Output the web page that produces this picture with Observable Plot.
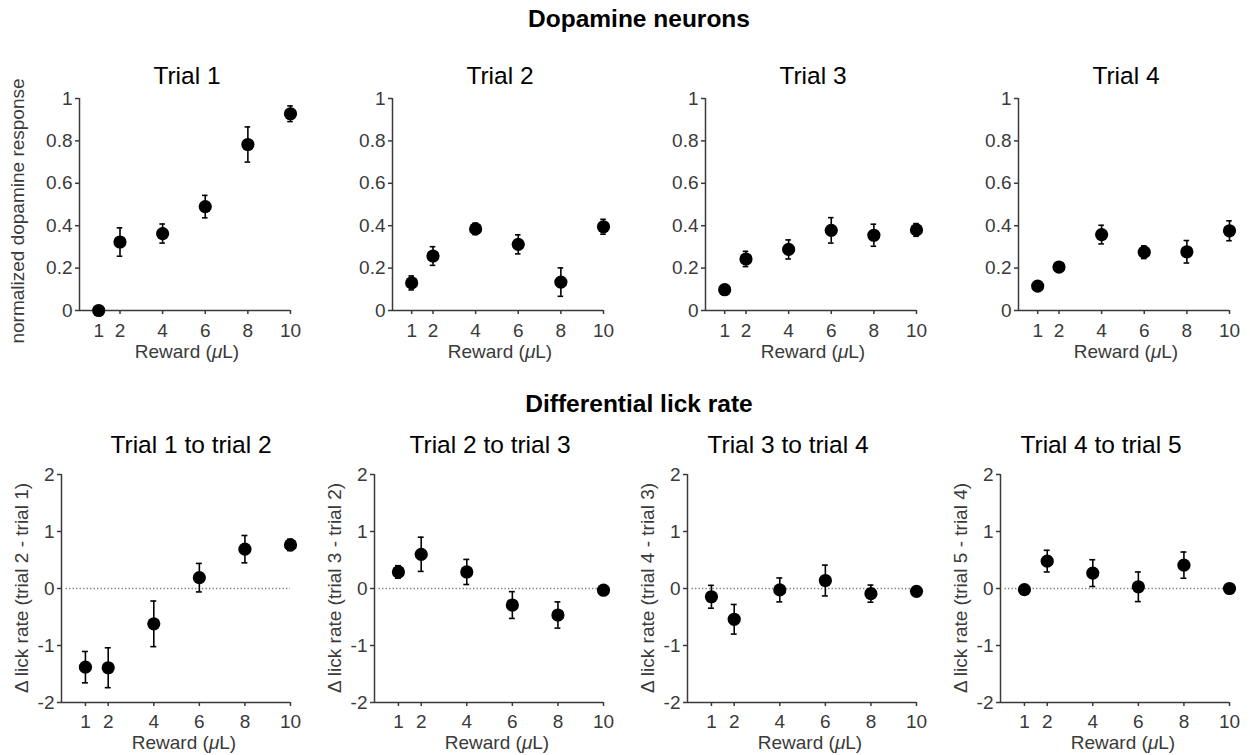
<!DOCTYPE html>
<html>
<head>
<meta charset="utf-8">
<script src="https://cdn.jsdelivr.net/npm/d3@7"></script>
<script src="https://cdn.jsdelivr.net/npm/@observablehq/plot@0.6"></script>
<style>
  html, body { margin: 0; padding: 0; background: #fff; }
  #fig { position: relative; width: 1250px; height: 755px; overflow: hidden; background: #fff;
         font-family: "Liberation Sans", Arial, Helvetica, sans-serif; }
  .panel { position: absolute; }
  #overlay { position: absolute; left: 0; top: 0; pointer-events: none; }
</style>
</head>
<body>
<div id="fig"></div>
<script>
// ---------------- DATA ----------------
const rewards = [1, 2, 4, 6, 8, 10];
const rewardTicks = [1, 2, 4, 6, 8, 10];

const dopTitles = ["Trial 1", "Trial 2", "Trial 3", "Trial 4"];
const dopYLabel = "normalized dopamine response";
const dopTicks = [0, 0.2, 0.4, 0.6, 0.8, 1];
const dopMean = [
  [0.00, 0.323, 0.363, 0.490, 0.783, 0.928],
  [0.130, 0.257, 0.385, 0.312, 0.134, 0.395],
  [0.098, 0.243, 0.288, 0.378, 0.355, 0.380],
  [0.115, 0.205, 0.358, 0.275, 0.277, 0.376]
];
const dopSem = [
  [0.008, 0.067, 0.045, 0.053, 0.083, 0.037],
  [0.033, 0.044, 0.027, 0.045, 0.067, 0.035],
  [0.010, 0.036, 0.045, 0.060, 0.052, 0.030],
  [0.012, 0.012, 0.044, 0.030, 0.053, 0.047]
];

const lickTitles = ["Trial 1 to trial 2", "Trial 2 to trial 3", "Trial 3 to trial 4", "Trial 4 to trial 5"];
const lickYLabels = [
  "\u0394 lick rate (trial 2 - trial 1)",
  "\u0394 lick rate (trial 3 - trial 2)",
  "\u0394 lick rate (trial 4 - trial 3)",
  "\u0394 lick rate (trial 5 - trial 4)"
];
const lickTicks = [-2, -1, 0, 1, 2];
const lickMean = [
  [-1.38, -1.39, -0.62, 0.19, 0.69, 0.765],
  [0.29, 0.60, 0.29, -0.29, -0.465, -0.03],
  [-0.145, -0.54, -0.025, 0.14, -0.09, -0.05],
  [-0.02, 0.48, 0.27, 0.03, 0.41, 0.00]
];
const lickSem = [
  [0.275, 0.35, 0.40, 0.25, 0.24, 0.10],
  [0.11, 0.30, 0.22, 0.235, 0.23, 0.03],
  [0.20, 0.26, 0.21, 0.27, 0.15, 0.06],
  [0.03, 0.19, 0.235, 0.26, 0.23, 0.02]
];

const sectionTitles = ["Dopamine neurons", "Differential lick rate"];

// ---------------- LAYOUT ----------------
const fig = document.getElementById("fig");
const STEP = 313;
const AXIS = "#3a3a3a";
const TICKFONT = 19;
const FONT = '"Liberation Sans", Arial, Helvetica, sans-serif';

function panel({means, sems, i, top, height, mt, mb, ml, mr, xdom, ydom, yticks, zeroLine, xpad}) {
  const data = rewards.map((r, k) => ({x: r, y: means[k], lo: means[k] - sems[k], hi: means[k] + sems[k]}));
  const capW = 0.13;
  const marks = [
    Plot.ruleX([xdom[0]], {y1: ydom[0], y2: ydom[1], stroke: AXIS, strokeWidth: 1.5}),
    Plot.ruleY([ydom[0]], {x1: xdom[0], x2: 10, stroke: AXIS, strokeWidth: 1.5}),
    Plot.axisY({ticks: yticks, tickSize: 4, tickPadding: 3, tickFormat: d => String(d), label: null,
                fontSize: TICKFONT, stroke: AXIS, fill: AXIS, strokeWidth: 1.5}),
    Plot.axisX({ticks: rewardTicks, tickSize: 4, tickPadding: xpad, tickFormat: d => String(d), label: null,
                fontSize: TICKFONT, stroke: AXIS, fill: AXIS, strokeWidth: 1.5})
  ];
  if (zeroLine) {
    marks.push(Plot.ruleY([0], {x1: xdom[0] + 0.2, x2: 10, stroke: "#7a7a7a", strokeWidth: 1.3, strokeDasharray: "1.3,2.2"}));
  }
  marks.push(
    Plot.ruleX(data, {x: "x", y1: "lo", y2: "hi", stroke: "#000", strokeWidth: 1.6}),
    Plot.ruleY(data, {y: "hi", x1: d => d.x - capW, x2: d => d.x + capW, stroke: "#000", strokeWidth: 1.6}),
    Plot.ruleY(data, {y: "lo", x1: d => d.x - capW, x2: d => d.x + capW, stroke: "#000", strokeWidth: 1.6}),
    Plot.dot(data, {x: "x", y: "y", r: 6.6, fill: "#000", stroke: "none"})
  );
  const p = Plot.plot({
    width: 311, height,
    marginTop: mt, marginBottom: mb, marginLeft: ml, marginRight: mr,
    x: {domain: xdom},
    y: {domain: ydom},
    style: {fontFamily: FONT, fontSize: TICKFONT + "px", background: "transparent", color: AXIS, overflow: "visible"},
    marks
  });
  d3.select(p).selectAll("text").attr("font-size", TICKFONT).style("font-size", TICKFONT + "px");
  const wrap = document.createElement("div");
  wrap.className = "panel";
  wrap.style.left = (i * STEP) + "px";
  wrap.style.top = top + "px";
  wrap.appendChild(p);
  fig.appendChild(wrap);
}

for (let i = 0; i < 4; i++) {
  panel({means: dopMean[i], sems: dopSem[i], i, top: 60, height: 300, mt: 38, mb: 50, ml: 79, mr: 21,
         xdom: [0.1, 10], ydom: [0, 1], yticks: dopTicks, zeroLine: false, xpad: 9});
  panel({means: lickMean[i], sems: lickSem[i], i, top: 430, height: 325, mt: 44, mb: 53, ml: 61, mr: 21,
         xdom: [-0.05, 10], ydom: [-2, 2], yticks: lickTicks, zeroLine: true, xpad: 8});
}

// ---------------- TEXT OVERLAY ----------------
const svg = d3.select(fig).append("svg").attr("id", "overlay")
  .attr("width", 1250).attr("height", 755)
  .style("font-family", FONT);

function txt(x, y, s, size, opts = {}) {
  const t = svg.append("text").attr("x", x).attr("y", y).attr("text-anchor", "middle")
    .attr("font-size", size).attr("fill", opts.fill || "#000")
    .attr("font-weight", opts.bold ? "bold" : null);
  if (opts.rotate) t.attr("transform", `rotate(-90 ${x} ${y})`).attr("dy", "0.35em");
  return t.text(s);
}
function rewardLabel(x, y) {
  const t = svg.append("text").attr("x", x).attr("y", y).attr("text-anchor", "middle")
    .attr("font-size", TICKFONT).attr("fill", AXIS);
  t.append("tspan").text("Reward (");
  t.append("tspan").attr("font-style", "italic").text("\u03BC");
  t.append("tspan").text("L)");
}

txt(639, 27, sectionTitles[0], 24.5, {bold: true});
txt(639, 412, sectionTitles[1], 24.5, {bold: true});

const lickTitleX = [191, 490, 788, 1101];
for (let i = 0; i < 4; i++) {
  txt(187 + i * STEP, 84, dopTitles[i], 24.5);
  txt(lickTitleX[i], 453, lickTitles[i], 24.5);
  rewardLabel(187 + i * STEP, 358);
  rewardLabel(184 + i * STEP, 749);
  txt(21 + i * STEP, 588, lickYLabels[i], TICKFONT, {rotate: true, fill: AXIS});
}
txt(17, 211, dopYLabel, TICKFONT, {rotate: true, fill: AXIS});
</script>
</body>
</html>
